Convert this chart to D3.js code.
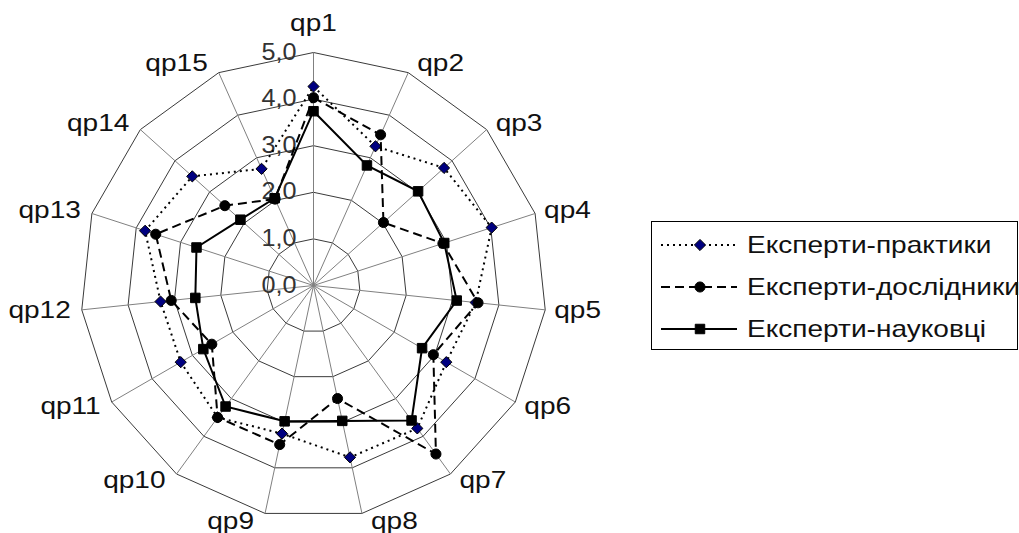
<!DOCTYPE html>
<html>
<head>
<meta charset="utf-8">
<script src="https://cdn.jsdelivr.net/npm/d3@7"></script>
<style>
  body { margin: 0; background: #fff; }
  text { font-family: "Liberation Sans", Arial, sans-serif; fill: #111; }
</style>
</head>
<body>
<svg id="chart"></svg>
<script>
// данні
var categories = ["qp1", "qp2", "qp3", "qp4", "qp5", "qp6", "qp7", "qp8",
                  "qp9", "qp10", "qp11", "qp12", "qp13", "qp14", "qp15"];
var ringTicks = [0, 1, 2, 3, 4, 5];
var ringLabels = ["0,0", "1,0", "2,0", "3,0", "4,0", "5,0"];
var seriesNames = ["Експерти-практики", "Експерти-дослідники", "Експерти-науковці"];
var practitioners = [4.27, 3.27, 3.77, 4.02, 3.50, 3.29, 3.79, 3.77, 3.25, 3.50, 3.29, 3.30, 3.80, 3.50, 2.74];
var researchers   = [4.03, 3.54, 2.02, 2.92, 3.55, 2.97, 4.47, 2.48, 3.49, 3.50, 2.52, 3.07, 3.56, 2.56, 2.03];
var scientists    = [3.74, 2.82, 3.02, 2.95, 3.09, 2.69, 3.58, 2.97, 2.98, 3.21, 2.73, 2.55, 2.64, 2.11, 2.05];

var settings = {
  width: 1019,
  height: 533,
  cx: 313.5,
  cy: 285.5,
  radius: 233,
  fontSize: 23,
  stretch: 1.22   // шрифт у оригіналі ширший
};

var svg = d3.select("#chart")
  .attr("width", settings.width)
  .attr("height", settings.height);

svg.append("rect")
  .attr("width", settings.width)
  .attr("height", settings.height)
  .attr("fill", "#fff");

//scaleの定義
var rScale = d3.scaleLinear().domain([0, 5]).range([0, settings.radius]);
var aScale = d3.scalePoint().domain(categories.concat(["_end"])).range([0, 2 * Math.PI]);

function px(cat, v) { return settings.cx + rScale(v) * Math.sin(aScale(cat)); }
function py(cat, v) { return settings.cy - rScale(v) * Math.cos(aScale(cat)); }
function place(x, y, k) { return "translate(" + [x, y] + ") scale(" + k + ",1)"; }

var g = svg.append("g");

// кільця сітки
ringTicks.slice(1).forEach(function(t) {
  g.append("polygon")
    .attr("points", categories.map(function(c) { return [px(c, t), py(c, t)].join(","); }).join(" "))
    .attr("fill", "none")
    .attr("stroke", "#3a3a3a")
    .attr("stroke-width", 1);
});

// промені
g.selectAll("line.spoke")
  .data(categories)
  .enter().append("line")
  .attr("class", "spoke")
  .attr("x1", settings.cx).attr("y1", settings.cy)
  .attr("x2", function(c) { return px(c, 5); })
  .attr("y2", function(c) { return py(c, 5); })
  .attr("stroke", "#808080")
  .attr("stroke-width", 1);

// підписи шкали
g.selectAll("text.tick")
  .data(ringTicks)
  .enter().append("text")
  .attr("class", "tick")
  .attr("transform", function(t) { return place(settings.cx - 17, settings.cy - rScale(t) + 7, 1.05); })
  .attr("text-anchor", "end")
  .attr("font-size", 24)
  .style("fill", "#333")
  .text(function(t, i) { return ringLabels[i]; });

// підписи категорій
g.selectAll("text.cat")
  .data(categories)
  .enter().append("text")
  .attr("class", "cat")
  .attr("font-size", settings.fontSize)
  .attr("text-anchor", function(c) {
    var s = Math.sin(aScale(c));
    return Math.abs(s) < 0.01 ? "middle" : (s > 0 ? "start" : "end");
  })
  .attr("transform", function(c) {
    var s = Math.sin(aScale(c));
    var x = px(c, 5), y = py(c, 5);
    if (Math.abs(s) < 0.01) return place(x, y - 22, settings.stretch);
    return place(s > 0 ? x + 9 : x - 11, y - Math.cos(aScale(c)) * 9 + 7, settings.stretch);
  })
  .text(function(c) { return c; });

// серії
var series = [
  { name: seriesNames[0], values: practitioners, dash: "2,4", marker: "diamond", fill: "#000080" },
  { name: seriesNames[1], values: researchers, dash: "9,5", marker: "circle", fill: "#000" },
  { name: seriesNames[2], values: scientists, dash: null, marker: "square", fill: "#000" }
];

var symbols = {
  diamond: d3.symbol().type(d3.symbolDiamond2).size(80),
  circle: d3.symbol().type(d3.symbolCircle).size(80),
  square: d3.symbol().type(d3.symbolSquare).size(90)
};

var line = d3.lineRadial()
  .angle(function(d) { return aScale(d.cat); })
  .radius(function(d) { return rScale(d.v); })
  .curve(d3.curveLinearClosed);

series.forEach(function(s) {
  var pts = categories.map(function(c, i) { return { cat: c, v: s.values[i] }; });
  var sg = svg.append("g").attr("transform", "translate(" + [settings.cx, settings.cy] + ")");
  sg.append("path")
    .attr("d", line(pts))
    .attr("fill", "none")
    .attr("stroke", "#000")
    .attr("stroke-width", 2)
    .attr("stroke-dasharray", s.dash);
  sg.selectAll("path.mk")
    .data(pts)
    .enter().append("path")
    .attr("class", "mk")
    .attr("d", symbols[s.marker])
    .attr("transform", function(d) {
      return "translate(" + [px(d.cat, d.v) - settings.cx, py(d.cat, d.v) - settings.cy] + ")";
    })
    .attr("fill", s.fill)
    .attr("stroke", "#000")
    .attr("stroke-width", 1);
});

// легенда
var legend = svg.append("g");
legend.append("rect")
  .attr("x", 651.5).attr("y", 221.5)
  .attr("width", 366).attr("height", 128)
  .attr("fill", "#fff")
  .attr("stroke", "#000")
  .attr("stroke-width", 1);

var rowY = d3.scalePoint().domain(seriesNames).range([245, 329]);

series.forEach(function(s) {
  var y = rowY(s.name);
  legend.append("line")
    .attr("x1", 661).attr("x2", 737)
    .attr("y1", y).attr("y2", y)
    .attr("stroke", "#000")
    .attr("stroke-width", 2)
    .attr("stroke-dasharray", s.dash);
  legend.append("path")
    .attr("d", symbols[s.marker])
    .attr("transform", "translate(" + [700, y] + ")")
    .attr("fill", s.fill)
    .attr("stroke", "#000");
  legend.append("text")
    .attr("transform", place(747, y + 8, settings.stretch))
    .attr("font-size", 23)
    .text(s.name);
});
</script>
</body>
</html>
